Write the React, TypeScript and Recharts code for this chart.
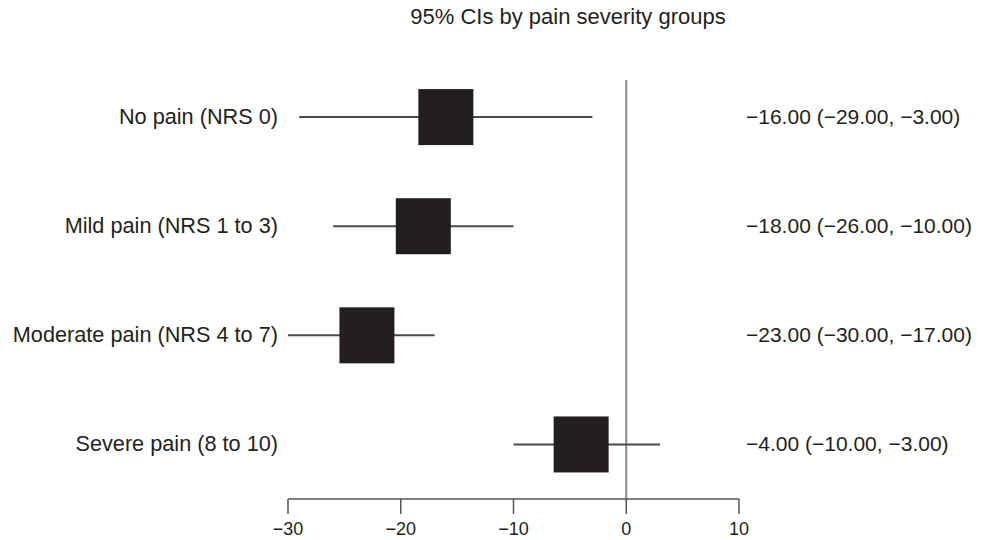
import * as React from "react";
import { ScatterChart, Scatter, XAxis, YAxis, ReferenceLine, ErrorBar } from "recharts";

const groups = ["No pain (NRS 0)", "Mild pain (NRS 1 to 3)", "Moderate pain (NRS 4 to 7)", "Severe pain (8 to 10)"];
const estimates = [-16, -18, -23, -4];
const lower = [-29, -26, -30, -10];
const upper = [-3, -10, -17, 3];
const ciLabels = ["−16.00 (−29.00, −3.00)", "−18.00 (−26.00, −10.00)", "−23.00 (−30.00, −17.00)", "−4.00 (−10.00, −3.00)"];
const xTicks = [-30, -20, -10, 0, 10];
const title = "95% CIs by pain severity groups";

const INK = "#231f20";
const FONT = "'Liberation Sans', Arial, Helvetica, sans-serif";

// top row gets the highest y value
const rows = groups.map((g, i) => ({
  name: g,
  row: groups.length - i,
  est: estimates[i],
  err: [estimates[i] - lower[i], upper[i] - estimates[i]],
}));

const labelFor = (list: string[]) => (v: number) => list[groups.length - v] ?? "";

function LeftTick({ x, y, payload }: any) {
  return (
    <text x={x} y={y} dy={7} textAnchor="end" fill={INK} fontSize={21.7} fontFamily={FONT}>
      {labelFor(groups)(payload.value)}
    </text>
  );
}

function RightTick({ x, y, payload }: any) {
  return (
    <text x={x} y={y} dy={7} textAnchor="start" fill={INK} fontSize={21} fontFamily={FONT}>
      {labelFor(ciLabels)(payload.value)}
    </text>
  );
}

function Box({ cx, cy }: any) {
  return <rect x={cx - 27.5} y={cy - 28} width={55} height={56} fill={INK} />;
}

export default function App() {
  return (
    <div style={{ position: "absolute", left: 0, top: 0, width: 986, height: 540, background: "#fff", fontFamily: FONT }}>
      <div style={{ position: "absolute", left: 0, top: 5, width: 1136, textAlign: "center", fontSize: 22, color: INK, lineHeight: "24px" }}>
        {title}
      </div>
      <ScatterChart width={986} height={540} margin={{ top: 80, right: 0, left: 0, bottom: 0 }}>
        <XAxis
          type="number"
          dataKey="est"
          domain={[-30, 10]}
          ticks={xTicks}
          height={41}
          tickSize={15}
          tickMargin={8}
          stroke="#555"
          strokeWidth={1.5}
          tick={{ fill: INK, fontSize: 18, fontFamily: FONT }}
          tickFormatter={(v: number) => (v < 0 ? `−${Math.abs(v)}` : `${v}`)}
        />
        <YAxis
          yAxisId="left"
          type="number"
          dataKey="row"
          domain={[0.5, 4.34]}
          ticks={[4, 3, 2, 1]}
          width={288}
          axisLine={false}
          tickLine={false}
          tickSize={0}
          tickMargin={10}
          tick={<LeftTick />}
          allowDataOverflow
        />
        <YAxis
          yAxisId="right"
          orientation="right"
          type="number"
          domain={[0.5, 4.34]}
          ticks={[4, 3, 2, 1]}
          width={247}
          axisLine={false}
          tickLine={false}
          tickSize={0}
          tickMargin={7}
          tick={<RightTick />}
          allowDataOverflow
        />
        <ReferenceLine yAxisId="left" x={0} stroke="#8a8a8a" strokeWidth={2} />
        <Scatter yAxisId="left" data={rows} shape={<Box />} isAnimationActive={false}>
          <ErrorBar dataKey="err" direction="x" width={0} stroke="#4a4a4a" strokeWidth={2} isAnimationActive={false} />
        </Scatter>
      </ScatterChart>
    </div>
  );
}
